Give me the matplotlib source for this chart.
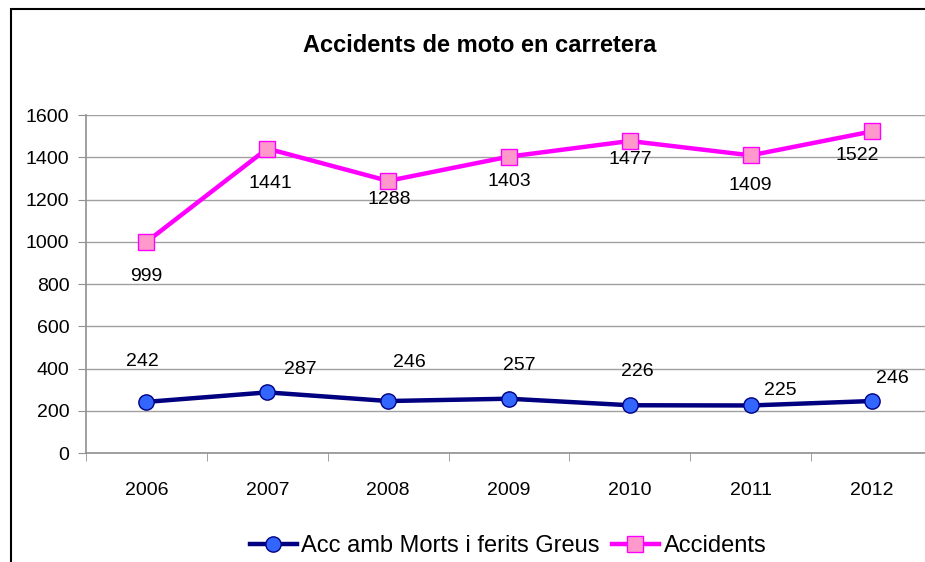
import matplotlib.pyplot as plt
from matplotlib.patches import Rectangle

plt.rcParams['font.family'] = ['Liberation Sans', 'DejaVu Sans']

years = ["2006", "2007", "2008", "2009", "2010", "2011", "2012"]
greus = [242, 287, 246, 257, 226, 225, 246]
accidents = [999, 1441, 1288, 1403, 1477, 1409, 1522]

# label offsets in pixels (dx, dy), as placed in the original chart
off_greus = [(-4, 40), (33, 23), (21, 39), (10, 33), (7, 34), (30, 15), (21, 23)]
off_acc = [(0, -35), (3, -35), (1, -19), (0, -25), (0, -19), (0, -30), (-14, -24)]

W, H = 925, 562
fig = plt.figure(figsize=(W / 100, H / 100), dpi=100)
fig.patches.append(Rectangle((11 / W, -0.1), 1.2, 1 - 9 / H + 0.1, transform=fig.transFigure,
                             fill=False, edgecolor="black", linewidth=1.5))

ax = fig.add_axes([86 / W, 1 - 453 / H, (932 - 86) / W, (453 - 115) / H])
x = list(range(len(years)))

ax.plot(x, greus, color="#000080", linewidth=3.2, marker="o", markersize=11,
        markerfacecolor="#3366ff", markeredgecolor="#000080", markeredgewidth=1,
        label="Acc amb Morts i ferits Greus", zorder=3)
ax.plot(x, accidents, color="#ff00ff", linewidth=3.2, marker="s", markersize=11,
        markerfacecolor="#ff99cc", markeredgecolor="#ff00ff", markeredgewidth=1,
        label="Accidents", zorder=3)

for i in x:
    ax.annotate(str(greus[i]), (i, greus[i]), xytext=(off_greus[i][0] * 0.72, off_greus[i][1] * 0.72),
                textcoords="offset points", ha="center", va="center", fontsize=14)
    ax.annotate(str(accidents[i]), (i, accidents[i]), xytext=(off_acc[i][0] * 0.72, off_acc[i][1] * 0.72),
                textcoords="offset points", ha="center", va="center", fontsize=14)

ax.set_xlim(-0.5, 6.5)
ax.set_ylim(0, 1600)
ax.set_yticks(range(0, 1601, 200))
ax.set_xticks(x)
ax.set_xticklabels(years)
ax.set_xticks([i + 0.5 for i in range(-1, 7)], minor=True)
ax.tick_params(axis="x", which="major", length=0, pad=21, labelsize=14)
ax.tick_params(axis="x", which="minor", length=6, color="#909090", direction="out")
ax.tick_params(axis="y", length=6, color="#909090", labelsize=14, pad=6)
ax.grid(axis="y", color="#a0a0a0", linewidth=1)
ax.set_axisbelow(True)
for s in ["top", "right"]:
    ax.spines[s].set_visible(False)
for s in ["left", "bottom"]:
    ax.spines[s].set_color("#909090")
    ax.spines[s].set_linewidth(1.2)

fig.text(480 / W, 1 - 45 / H, "Accidents de moto en carretera", ha="center", va="center",
         fontsize=17, fontweight="bold")

fig.legend(loc="center", bbox_to_anchor=(508 / W, 1 - 546 / H), ncol=2, frameon=False,
           fontsize=17, handlelength=2.0, handletextpad=0.2, columnspacing=0.5, borderaxespad=0)

fig.savefig("out.png", dpi=100)
